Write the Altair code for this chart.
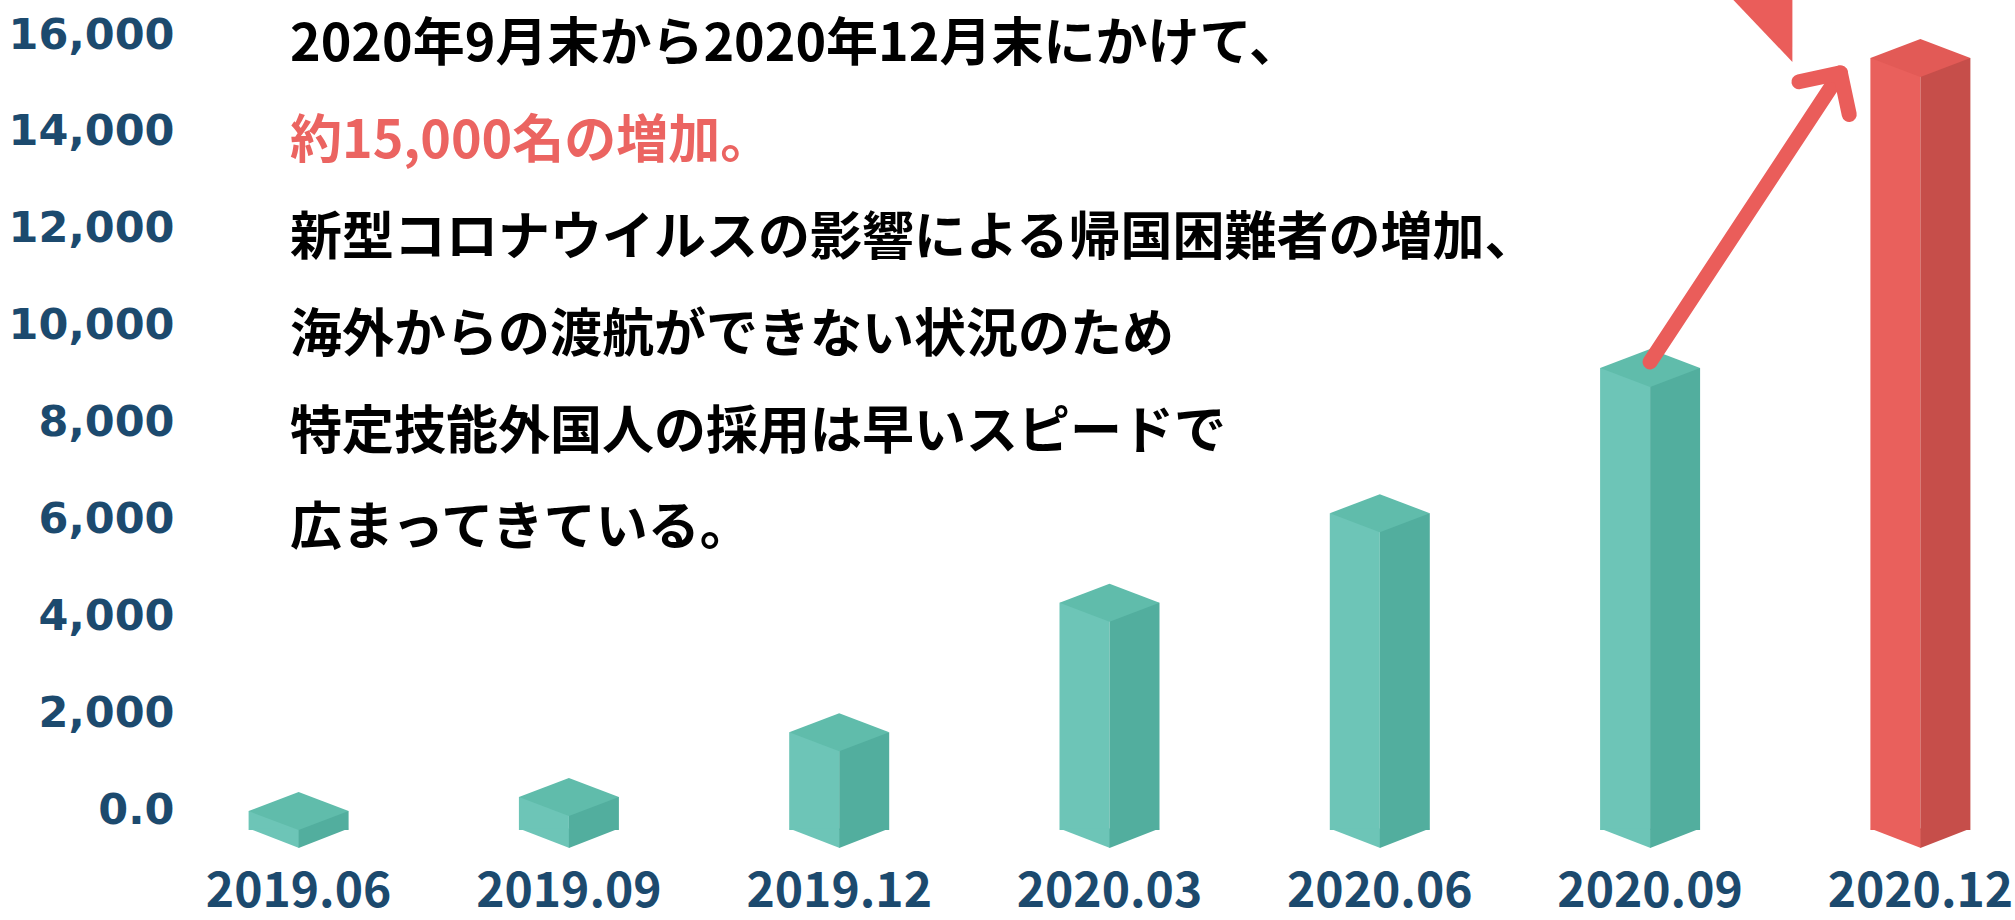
import altair as alt
import pandas as pd

# ---------------- data ----------------
CATEGORIES = ["2019.06", "2019.09", "2019.12", "2020.03", "2020.06", "2020.09", "2020.12"]
VALUES = [390, 680, 2020, 4690, 6540, 9540, 15940]
Y_TICKS = [0, 2000, 4000, 6000, 8000, 10000, 12000, 14000, 16000]
TEXT_LINES = [
    "2020年9月末から2020年12月末にかけて、",
    "約15,000名の増加。",
    "新型コロナウイルスの影響による帰国困難者の増加、",
    "海外からの渡航ができない状況のため",
    "特定技能外国人の採用は早いスピードで",
    "広まってきている。",
]
HIGHLIGHT_LINE = 1
HIGHLIGHT_CAT = "2020.12"
ARROW_FROM = "2020.09"
ARROW_TO = "2020.12"

# ---------------- styles ----------------
TEAL = {"left": "#6dc5b7", "right": "#52ae9e", "top": "#60bcab"}
RED = {"left": "#e9605c", "right": "#c64e4a", "top": "#e25a56"}
NAVY = "#1c4a6e"
ARROW_RED = "#ea5d5a"
TEXT_BLACK = "#000000"
TEXT_RED = "#eb6461"

W, H = 1811, 775
PAD = {"left": 204, "top": 35, "right": 0, "bottom": 110}
FACE_W = 50
DROP = 20  # iso drop of the box faces below the value line

bars = pd.DataFrame({"cat": CATEGORIES, "value": VALUES})
pal = [RED if c == HIGHLIGHT_CAT else TEAL for c in CATEGORIES]
bars["left"] = [p["left"] for p in pal]
bars["right"] = [p["right"] for p in pal]
bars["top"] = [p["top"] for p in pal]
bars["zero"] = 0

y_max = max(Y_TICKS)
step = Y_TICKS[1] - Y_TICKS[0]
texts = pd.DataFrame({
    "line": TEXT_LINES,
    "ypos": [y_max - i * step for i in range(len(TEXT_LINES))],
    "color": [TEXT_RED if i == HIGHLIGHT_LINE else TEXT_BLACK for i in range(len(TEXT_LINES))],
})

vmap = dict(zip(CATEGORIES, VALUES))
arrow = pd.DataFrame({"from": [ARROW_FROM], "to": [ARROW_TO],
                      "v0": [vmap[ARROW_FROM]], "v1": [vmap[ARROW_TO]]})

x_scale = alt.Scale(domain=CATEGORIES, paddingInner=0.3, paddingOuter=0)
x_axis = alt.Axis(title=None, labelAngle=0, ticks=False, domain=False, grid=False,
                  labelFont="Noto Sans CJK JP", labelFontWeight="bold", labelFontSize=48,
                  labelColor=NAVY, labelPadding=58, labelLimit=0, labelOverlap=False)
y_scale = alt.Scale(domain=[0, y_max], nice=False, zero=True)
y_axis = alt.Axis(title=None, values=Y_TICKS, ticks=False, tickSize=0, domain=False, grid=False,
                  labelFont="DejaVu Sans", labelFontWeight="bold", labelFontSize=43,
                  labelColor=NAVY, labelPadding=30, labelLimit=0,
                  labelExpr="datum.value == 0 ? '0.0' : format(datum.value, ',')")


def X(field):
    return alt.X(field, type="nominal", scale=x_scale, axis=x_axis, sort=CATEGORIES)


def Y(field):
    return alt.Y(field, type="quantitative", scale=y_scale, axis=y_axis)


base = alt.Chart(bars)

left_face = base.mark_bar(width=FACE_W, xOffset=-FACE_W / 2, yOffset=DROP, y2Offset=DROP).encode(
    x=X("cat"), y=Y("value"), y2=alt.Y2("zero"), color=alt.Color("left:N", scale=None))
right_face = base.mark_bar(width=FACE_W, xOffset=FACE_W / 2, yOffset=DROP, y2Offset=DROP).encode(
    x=X("cat"), y=Y("value"), y2=alt.Y2("zero"), color=alt.Color("right:N", scale=None))

unit = (2 * FACE_W) ** 2  # custom symbol scale = sqrt(size)/2 = FACE_W
left_bottom = base.mark_point(shape="M -1 -0.03 L 0.01 -0.03 L 0.01 0.36 Z", size=unit,
                              filled=True, opacity=1, strokeWidth=0, yOffset=DROP).encode(
    x=X("cat"), y=Y("zero"), color=alt.Color("left:N", scale=None))
right_bottom = base.mark_point(shape="M 0 -0.03 L 1 -0.03 L 0 0.36 Z", size=unit,
                               filled=True, opacity=1, strokeWidth=0, yOffset=DROP).encode(
    x=X("cat"), y=Y("zero"), color=alt.Color("right:N", scale=None))
top_face = base.mark_point(shape="M -1 0 L 0 -0.38 L 1 0 L 0 0.38 Z", size=unit,
                           filled=True, opacity=1, strokeWidth=0, yOffset=DROP).encode(
    x=X("cat"), y=Y("value"), color=alt.Color("top:N", scale=None))

# decorative red wedge at the very top
wedge = alt.Chart(bars).transform_filter(alt.datum.cat == HIGHLIGHT_CAT).mark_point(
    shape="M -187 -35 L -128 -35 L -128 27 Z", size=4, filled=True, opacity=1,
    strokeWidth=0, color=ARROW_RED).encode(x=X("cat"), y=alt.value(0))

arrow_line = alt.Chart(arrow).mark_rule(
    color=ARROW_RED, strokeWidth=15, strokeCap="round",
    yOffset=14, x2Offset=-80, y2Offset=35).encode(
    x=X("from"), x2=alt.X2("to"), y=Y("v0"), y2=alt.Y2("v1"))
arrow_head = alt.Chart(arrow).mark_point(
    shape="M -1 1 L 0 0 L 1 1", size=3600, filled=False, opacity=1, angle=33,
    stroke=ARROW_RED, strokeWidth=15, strokeCap="round", strokeJoin="round",
    xOffset=-80, yOffset=35).encode(x=X("to"), y=Y("v1"))

text = alt.Chart(texts).mark_text(
    align="left", baseline="middle", font="Noto Sans CJK JP", fontWeight="bold",
    fontSize=52, yOffset=10).encode(
    x=alt.value(86), y=Y("ypos"), text="line:N", color=alt.Color("color:N", scale=None))

chart = alt.layer(
    left_face, right_face, left_bottom, right_bottom, top_face,
    arrow_line, arrow_head, wedge, text
).properties(
    width=W, height=H, padding=PAD,
    autosize=alt.AutoSizeParams(type="none"),
    background="white",
).configure_view(stroke=None)

chart.save("out.html", embed_options={"renderer": "svg", "actions": False})
